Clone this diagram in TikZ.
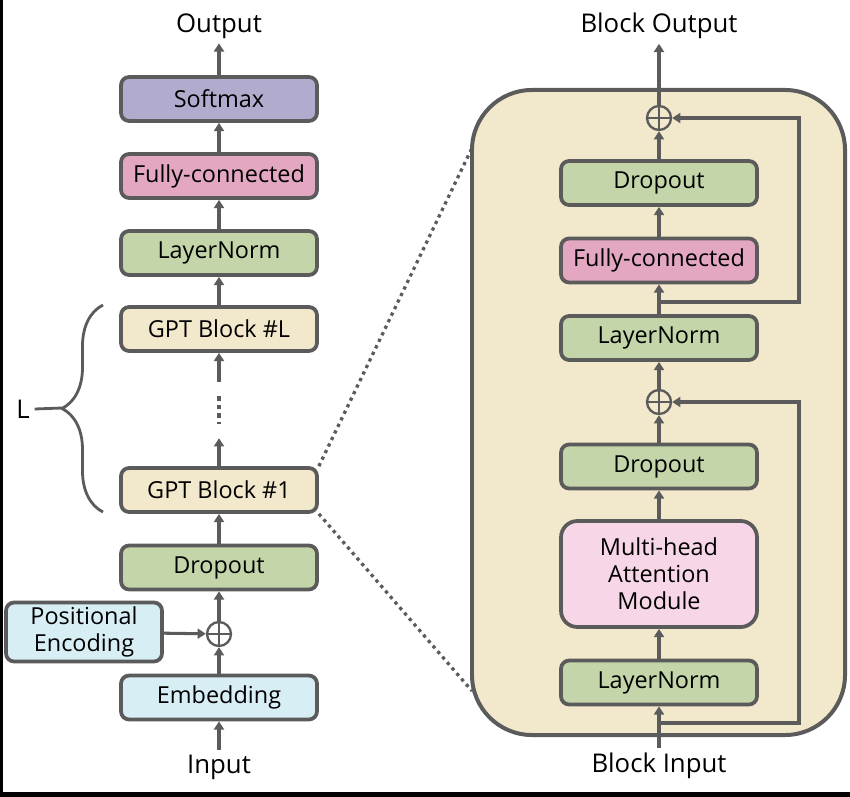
\documentclass[tikz,border=0pt]{standalone}
\usepackage{fontspec}
\setmainfont{Open Sans}
\usepackage{tikz}
\usetikzlibrary{arrows.meta}
\usetikzlibrary{decorations.pathreplacing}

\definecolor{edge}{HTML}{5B5B5B}
\definecolor{smaxfill}{HTML}{B1ACCE}
\definecolor{fcfill}{HTML}{E3A7C2}
\definecolor{normfill}{HTML}{C4D6A9}
\definecolor{gptfill}{HTML}{F2E8CB}
\definecolor{embfill}{HTML}{D8EEF5}
\definecolor{attnfill}{HTML}{F7D6E7}

\newcommand\boxfont{\fontsize{20}{23}\selectfont}
\newcommand\hdfont{\fontsize{22}{26}\selectfont}

\begin{document}
\begin{tikzpicture}[
            x=.03cm, y=-.03cm,
            box/.style={draw=edge, line width=3.2pt, rounded corners=7pt,
                minimum width=5.88cm, minimum height=1.32cm, inner sep=0pt,
                align=center, font=\boxfont},
            flow/.style={draw=edge, line width=2.6pt,
                -{Triangle[length=7pt, width=8.5pt]}},
            add/.style={circle, draw=edge, line width=2pt, minimum size=.72cm,
                inner sep=0pt, path picture={
                    \draw[edge, line width=2pt]
                        (path picture bounding box.north) -- (path picture bounding box.south)
                        (path picture bounding box.west) -- (path picture bounding box.east);
                }},
            hd/.style={font=\hdfont, inner sep=4pt},
            zoomline/.style={draw=edge, line width=2.8pt, dash pattern=on 2.8pt off 3.4pt},
        ]
            \useasboundingbox[fill=white] (0, 0) rectangle (850, 797);
            \fill[black] (0, 0) rectangle (3, 797);
            \fill[black] (0, 791.5) rectangle (850, 797);

            %% whole model, bottom to top
            \node[hd] (out) at (219, 26) {Output};
            \node[box, fill=smaxfill] (smax) at (219, 99) {Softmax};
            \node[box, fill=fcfill] (fcL) at (219, 176) {Fully-connected};
            \node[box, fill=normfill] (lnL) at (219, 253) {LayerNorm};
            \node[box, fill=gptfill] (gptL) at (219, 329) {GPT Block \#L};
            \node[minimum height=1.68cm, inner sep=0pt] (gap) at (219, 410) {};
            \node[box, fill=gptfill] (gpt1) at (219, 490) {GPT Block \#1};
            \node[box, fill=normfill] (dropL) at (219, 567.5) {Dropout};
            \node[add] (addL) at (219, 634) {};
            \node[box, fill=embfill, minimum width=4.68cm, minimum height=1.77cm]
                (pe) at (84, 632) {Positional\\Encoding};
            \node[box, fill=embfill] (emb) at (219, 697.5) {Embedding};
            \node[hd] (in) at (219, 767) {Input};

            \foreach \a/\b in {in/emb, emb/addL, addL/dropL, dropL/gpt1, gpt1/gap,
                gap/gptL, gptL/lnL, lnL/fcL, fcL/smax, smax/out}{
                \draw[flow] (\a) -- (\b);
            }
            \draw[flow] (pe) -- (addL);
            \draw[edge, line width=4pt, dash pattern=on 4pt off 3.5pt]
                ([yshift=-12pt]gap.north) -- ([yshift=12pt]gap.south);

            %% L stacked blocks
            \node[font=\hdfont, inner sep=0pt] (nL) at (23, 409) {L};
            \draw[edge, line width=2.4pt, decorate, decoration={brace, amplitude=35pt}]
                (103, 512) -- (103, 305);
            \coordinate (btip) at (62, 408);
            \draw[edge, line width=2.4pt] ([xshift=4pt]nL.east) -- (btip);

            %% inside one GPT block
            \node[draw=edge, fill=gptfill, line width=3.4pt, rounded corners=1.8cm,
                minimum width=11.19cm, minimum height=19.35cm] (blk) at (658.5, 412.5) {};
            \node[hd] (bout) at (659, 26) {Block Output};
            \node[add] (addA) at (659, 118) {};
            \node[box, fill=normfill] (dropA) at (659, 183) {Dropout};
            \node[box, fill=fcfill] (fcA) at (659, 260.5) {Fully-connected};
            \node[box, fill=normfill] (lnA) at (659, 338) {LayerNorm};
            \node[add] (addB) at (659, 402) {};
            \node[box, fill=normfill] (dropB) at (659, 466.5) {Dropout};
            \node[box, fill=attnfill, rounded corners=14pt, minimum height=3.18cm]
                (mha) at (659, 574) {Multi-head\\Attention\\Module};
            \node[box, fill=normfill] (lnB) at (659, 682.5) {LayerNorm};
            \node[hd] (bin) at (659, 766) {Block Input};

            \foreach \a/\b in {bin/lnB, lnB/mha, mha/dropB, dropB/addB, addB/lnA,
                lnA/fcA, fcA/dropA, dropA/addA, addA/bout}{
                \draw[flow] (\a) -- (\b);
            }

            %% skip connections
            \coordinate (skipB) at (659, 723);
            \coordinate (skipA) at (659, 302);
            \draw[flow] (skipB) -- ++(140, 0) |- (addB);
            \draw[flow] (skipA) -- ++(140, 0) |- (addA);

            %% zoom lines
            \coordinate (zoomT) at (472, 148);
            \coordinate (zoomB) at (472, 691);
            \draw[zoomline] (gpt1.north east) -- (zoomT);
            \draw[zoomline] (gpt1.south east) -- (zoomB);
        \end{tikzpicture}
\end{document}
